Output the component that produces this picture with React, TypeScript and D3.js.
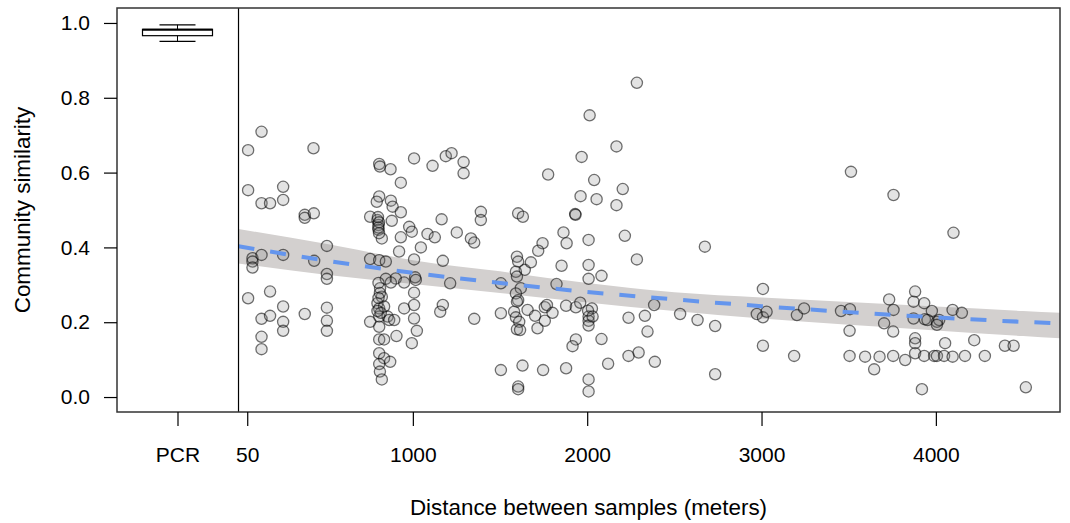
import React, { useEffect, useRef } from 'react';
import * as d3 from 'd3';

// pairwise sample distance (m) and community similarity
const distances = [
  55, 55, 80, 80, 80, 55,
  132, 132, 132, 132, 132, 132,
  181, 181, 181,
  256, 256, 256, 256, 256, 256,
  380, 380, 432, 430, 380, 434,
  507, 507, 507, 507, 507, 507,
  807, 811, 872, 931, 807, 793, 874, 884, 931, 755, 797, 803, 803, 822, 879, 931, 921, 755,
  807, 845, 845, 902, 874, 950, 812, 822, 797, 807, 835, 950, 807, 855, 864, 893, 755, 807,
  906, 807, 835, 807, 835, 870, 807, 811, 822, 803, 811, 803, 816, 797, 800, 806, 802, 806,
  1007, 1113, 1189, 1222, 979, 994, 1084, 1126, 1046, 1007, 1013, 1017, 1007, 1007, 1007,
  1023, 994, 1165, 1172, 1172, 1157, 1214, 1291, 1291, 1252, 1333, 1352, 1390, 1390, 1352,
  1505, 1505, 1505, 1604, 1631, 1597, 1604, 1642, 1677, 1591, 1597, 1619, 1591, 1604, 1597,
  1581, 1591, 1610, 1597, 1615, 1658, 1701, 1715, 1757, 1757, 1769, 1801, 1824, 1853, 1864,
  1882, 1744, 1719, 1776, 1629, 1747, 1879, 1604, 1604, 1879, 1935, 1960, 2027, 2008, 2008,
  2008, 2005, 2031, 2008, 2008, 2008, 2082, 2285, 2216, 1935, 1916, 2082, 2237, 2331, 2346,
  2237, 2295, 2388, 2120, 2008, 2008, 2384,
  2285, 2014, 2168, 1968, 2040, 2204, 1962, 2054, 2168, 1931, 1933,
  2675, 2533, 2633, 2734, 2734,
  3008, 2973, 3008, 3029, 3008, 3187, 3203, 3244, 3456, 3507, 3505, 3505, 3513,
  3594, 3646, 3677, 3732, 3757, 3703, 3755, 3755, 3824, 3881, 3872, 3933, 3977, 3872, 3937,
  3952, 4006, 4019, 4006, 3881, 3881, 3881, 3933, 3990, 4006, 4047, 4053, 4096, 4149, 4096,
  4167, 4220, 4281, 4396, 4446, 3920, 4516, 3757, 4101,
];

const similarities = [
  0.660, 0.553, 0.371, 0.362, 0.346, 0.264,
  0.709, 0.518, 0.380, 0.209, 0.161, 0.128,
  0.518, 0.282, 0.217,
  0.562, 0.527, 0.380, 0.242, 0.201, 0.177,
  0.487, 0.479, 0.491, 0.665, 0.222, 0.364,
  0.404, 0.329, 0.316, 0.239, 0.204, 0.177,
  0.623, 0.616, 0.609, 0.573, 0.536, 0.522, 0.525, 0.509, 0.494, 0.482, 0.473, 0.460, 0.447, 0.424, 0.471, 0.427, 0.389, 0.369,
  0.366, 0.362, 0.316, 0.317, 0.306, 0.306, 0.291, 0.268, 0.251, 0.237, 0.242, 0.237, 0.215, 0.215, 0.206, 0.206, 0.201, 0.188,
  0.163, 0.154, 0.154, 0.117, 0.104, 0.094, 0.088, 0.068, 0.047, 0.305, 0.278, 0.265, 0.225, 0.230, 0.481, 0.467, 0.453, 0.438,
  0.638, 0.618, 0.644, 0.652, 0.455, 0.442, 0.436, 0.427, 0.400, 0.368, 0.320, 0.313, 0.279, 0.246, 0.210,
  0.177, 0.144, 0.475, 0.364, 0.246, 0.228, 0.304, 0.628, 0.598, 0.440, 0.424, 0.413, 0.495, 0.473, 0.209,
  0.304, 0.224, 0.072, 0.491, 0.482, 0.375, 0.362, 0.340, 0.360, 0.335, 0.322, 0.291, 0.277, 0.259, 0.255,
  0.228, 0.213, 0.201, 0.181, 0.179, 0.233, 0.217, 0.184, 0.204, 0.240, 0.246, 0.225, 0.302, 0.351, 0.440,
  0.411, 0.411, 0.391, 0.595, 0.084, 0.072, 0.077, 0.028, 0.021, 0.244, 0.240, 0.252, 0.237, 0.215, 0.204,
  0.191, 0.231, 0.215, 0.420, 0.353, 0.316, 0.324, 0.368, 0.431, 0.154, 0.136, 0.155, 0.212, 0.217, 0.175,
  0.110, 0.119, 0.094, 0.089, 0.047, 0.015, 0.246,
  0.840, 0.753, 0.670, 0.642, 0.580, 0.556, 0.537, 0.529, 0.513, 0.489, 0.487,
  0.402, 0.222, 0.206, 0.190, 0.061,
  0.289, 0.222, 0.213, 0.228, 0.137, 0.110, 0.219, 0.237, 0.230, 0.235, 0.177, 0.110, 0.602,
  0.108, 0.074, 0.108, 0.261, 0.233, 0.197, 0.175, 0.110, 0.099, 0.282, 0.255, 0.251, 0.230, 0.210, 0.208,
  0.206, 0.201, 0.206, 0.193, 0.157, 0.144, 0.117, 0.110, 0.110, 0.110, 0.110, 0.144, 0.233, 0.225, 0.108,
  0.110, 0.152, 0.110, 0.137, 0.137, 0.021, 0.026, 0.540, 0.439,
];

// PCR replicate boxplot: min, q1, median, q3, max
const pcrBox = [0.951, 0.966, 0.982, 0.983, 0.995];

// fitted curve and its confidence band, read at these distances
const fitDistances = [0, 500, 1000, 1500, 2000, 2500, 3000, 3500, 4000, 4500, 4712];
const fitValues = [0.403, 0.365, 0.332, 0.305, 0.281, 0.261, 0.243, 0.227, 0.213, 0.201, 0.197];
const bandUpper = [0.449, 0.41, 0.366, 0.336, 0.305, 0.28, 0.266, 0.254, 0.242, 0.23, 0.225];
const bandLower = [0.357, 0.327, 0.302, 0.278, 0.253, 0.23, 0.21, 0.193, 0.178, 0.163, 0.157];

const xTickValues = [-350, 50, 1000, 2000, 3000, 4000];
const xTickLabels = ['PCR', '50', '1000', '2000', '3000', '4000'];
const yTickValues = [0, 0.2, 0.4, 0.6, 0.8, 1.0];

const App = () => {
  const ref = useRef<SVGSVGElement>(null);

  useEffect(() => {
    const width = 1070;
    const height = 523;
    const margin = { top: 8, right: 10, bottom: 111, left: 117 };
    const font = "'Liberation Sans', Arial, Helvetica, sans-serif";

    const svg = d3.select(ref.current);
    svg.selectAll('*').remove();

    const x = d3.scaleLinear().domain([-697, 4712]).range([margin.left, width - margin.right]);
    const y = d3.scaleLinear().domain([-0.04, 1.04]).range([height - margin.bottom, margin.top]);

    // confidence band
    const band = d3.area<number>()
      .x((d) => x(d))
      .y0((_, i) => y(bandLower[i]))
      .y1((_, i) => y(bandUpper[i]))
      .curve(d3.curveMonotoneX);
    svg.append('path')
      .attr('d', band(fitDistances))
      .attr('fill', '#d3d0cf');

    // points
    svg.append('g')
      .selectAll('circle')
      .data(distances)
      .enter()
      .append('circle')
      .attr('cx', (d) => x(d))
      .attr('cy', (_, i) => y(similarities[i]))
      .attr('r', 5.6)
      .attr('fill', 'rgba(128,128,128,0.22)')
      .attr('stroke', 'rgba(0,0,0,0.55)')
      .attr('stroke-width', 1.3);

    // fitted line
    const line = d3.line<number>()
      .x((d) => x(d))
      .y((_, i) => y(fitValues[i]))
      .curve(d3.curveMonotoneX);
    svg.append('path')
      .attr('d', line(fitDistances))
      .attr('fill', 'none')
      .attr('stroke', '#6495ED')
      .attr('stroke-width', 4)
      .attr('stroke-dasharray', '16,16');

    // PCR boxplot
    const cx = x(-350);
    const g = svg.append('g').attr('stroke', '#000').attr('fill', 'none');
    g.append('line').attr('x1', cx).attr('x2', cx).attr('y1', y(pcrBox[4])).attr('y2', y(pcrBox[3]));
    g.append('line').attr('x1', cx).attr('x2', cx).attr('y1', y(pcrBox[1])).attr('y2', y(pcrBox[0]));
    g.append('line').attr('x1', cx - 18).attr('x2', cx + 18).attr('y1', y(pcrBox[4])).attr('y2', y(pcrBox[4])).attr('stroke-width', 1.2);
    g.append('line').attr('x1', cx - 18).attr('x2', cx + 18).attr('y1', y(pcrBox[0])).attr('y2', y(pcrBox[0])).attr('stroke-width', 1.2);
    g.append('rect')
      .attr('x', cx - 35).attr('width', 70)
      .attr('y', y(pcrBox[3])).attr('height', y(pcrBox[1]) - y(pcrBox[3]))
      .attr('fill', '#fff').attr('stroke-width', 1.2);
    g.append('line').attr('x1', cx - 35).attr('x2', cx + 35).attr('y1', y(pcrBox[2])).attr('y2', y(pcrBox[2])).attr('stroke-width', 2);

    // separator between PCR and distances
    svg.append('line')
      .attr('x1', x(0)).attr('x2', x(0))
      .attr('y1', margin.top).attr('y2', height - margin.bottom)
      .attr('stroke', '#000').attr('stroke-width', 1.2);

    // frame
    svg.append('rect')
      .attr('x', margin.left).attr('y', margin.top)
      .attr('width', width - margin.left - margin.right)
      .attr('height', height - margin.top - margin.bottom)
      .attr('fill', 'none').attr('stroke', '#333').attr('stroke-width', 1.5);

    // axes
    const xAxis = d3.axisBottom(x)
      .tickValues(xTickValues)
      .tickFormat((_, i) => xTickLabels[i])
      .tickSize(14)
      .tickPadding(21);
    const gx = svg.append('g')
      .attr('transform', `translate(0, ${height - margin.bottom})`)
      .call(xAxis);
    gx.select('.domain').remove();

    const yAxis = d3.axisLeft(y)
      .tickValues(yTickValues)
      .tickFormat(d3.format('.1f'))
      .tickSize(13)
      .tickPadding(14);
    const gy = svg.append('g')
      .attr('transform', `translate(${margin.left}, 0)`)
      .call(yAxis);
    gy.select('.domain').remove();

    svg.selectAll('.tick line').attr('stroke', '#000').attr('stroke-width', 1.2);
    svg.selectAll('.tick text').attr('font-size', 21).attr('font-family', font).attr('fill', '#000');

    svg.append('text')
      .attr('x', (margin.left + width - margin.right) / 2)
      .attr('y', 515)
      .attr('text-anchor', 'middle')
      .attr('font-size', 22.4)
      .attr('font-family', font)
      .text('Distance between samples (meters)');

    svg.append('text')
      .attr('transform', `translate(30, ${(margin.top + height - margin.bottom) / 2}) rotate(-90)`)
      .attr('text-anchor', 'middle')
      .attr('font-size', 22.4)
      .attr('font-family', font)
      .text('Community similarity');
  }, []);

  return (
    <svg ref={ref} width={1070} height={523}
      style={{ position: 'absolute', left: 0, top: 0, background: '#fff' }} />
  );
};

export default App;
